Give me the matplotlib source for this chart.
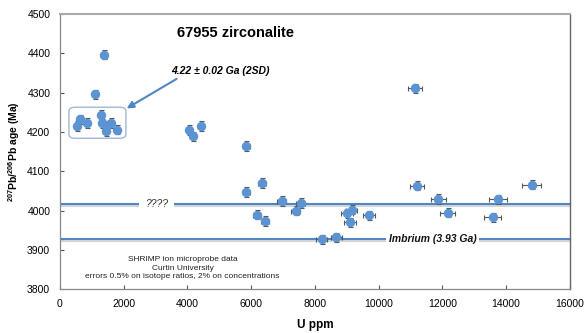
import matplotlib
matplotlib.use("Agg")
import matplotlib.pyplot as plt
import matplotlib.patheffects as pe
from matplotlib.patches import FancyBboxPatch
import numpy as np

plt.rcParams["font.family"] = ["Liberation Sans", "DejaVu Sans"]
plt.rcParams["mathtext.fontset"] = "custom"
plt.rcParams["mathtext.rm"] = "Liberation Sans"
plt.rcParams["mathtext.bf"] = "Liberation Sans:bold"

# U concentration (ppm) and 207Pb/206Pb age (Ma)
u_ppm = [523, 638, 837, 1098, 1380, 1297, 1328, 1433, 1475, 1590, 1778,
         4057, 4162, 4413, 5846, 5846, 6347, 6170, 6441, 6960, 7394, 7550,
         8209, 8668, 9004, 9151, 9100, 9700, 11137, 11213, 11870, 12163,
         13574, 13752, 14808]
age_ma = [4215, 4232, 4223, 4296, 4397, 4244, 4222, 4203, 4217, 4223, 4206,
          4205, 4189, 4215, 4165, 4048, 4070, 3990, 3974, 4025, 4000, 4020,
          3927, 3932, 3993, 4003, 3970, 3988, 4311, 4064, 4030, 3995,
          3983, 4029, 4066]
age_err = 12          # Ma, plotted error
u_err_frac = 0.02     # 2% on concentrations

ref_ages = [4016, 3928]
ref_labels = ["????", "Imbrium (3.93 Ga)"]
ref_label_x = [3030, 11700]

box_x = [282, 2070]
box_y = [4184, 4263]

blue = "#5b93d3"
line_blue = "#4f86c6"

fig = plt.figure(figsize=(5.84, 3.33), dpi=100)
ax = fig.add_axes([0.1027, 0.131, 0.873, 0.827])

u = np.array(u_ppm)
ax.errorbar(u, age_ma, yerr=age_err, xerr=u * u_err_frac, fmt="o",
            color=blue, markersize=5.8, ecolor="#555555", elinewidth=0.8,
            capsize=1.8, capthick=0.8, zorder=4)

for val in ref_ages:
    ax.axhline(val, color=line_blue, lw=1.5, zorder=2,
               path_effects=[pe.SimpleLineShadow(offset=(0, -1.2), shadow_color="#bbbbbb", alpha=0.6),
                             pe.Normal()])

ax.text(ref_label_x[0], ref_ages[0], ref_labels[0], ha="center", va="center",
        fontsize=7.5, style="italic", color="#333333", zorder=3,
        bbox=dict(boxstyle="square,pad=0.6", fc="white", ec="none"))
ax.text(ref_label_x[1], ref_ages[1], ref_labels[1], ha="center", va="center",
        fontsize=7.5, style="italic", weight="bold", color="#111111", zorder=3,
        bbox=dict(boxstyle="square,pad=0.25", fc="white", ec="none"))

box = FancyBboxPatch((box_x[0], box_y[0]), box_x[1] - box_x[0], box_y[1] - box_y[0],
                     boxstyle="round,pad=0,rounding_size=200", mutation_aspect=0.05,
                     fc="none", ec="#9fb9d9", lw=1.0, zorder=3)
ax.add_patch(box)

ax.annotate("", xy=(2092, 4260), xytext=(3660, 4335),
            arrowprops=dict(arrowstyle="-|>", color=line_blue, lw=1.5,
                            mutation_scale=10, shrinkA=0, shrinkB=0))
ax.text(3480, 4355, "4.22 ± 0.02 Ga (2SD)", fontsize=7.5, style="italic",
        weight="bold", va="center", ha="left")

ax.text(5500, 4470, "67955 zirconalite", fontsize=10.5, weight="bold",
        va="top", ha="center")

ax.text(3850, 3885, "SHRIMP ion microprobe data\nCurtin University\n"
        "errors 0.5% on isotope ratios, 2% on concentrations",
        fontsize=6, ha="center", va="top", linespacing=1.35, color="#222222")

ax.set_xlim(0, 16000)
ax.set_ylim(3800, 4500)
ax.set_xticks(np.arange(0, 16001, 2000))
ax.set_yticks(np.arange(3800, 4501, 100))
ax.tick_params(direction="in", length=3, width=0.8, labelsize=7.5, colors="#555555",
               labelcolor="black", pad=7)
for side in ["left", "bottom"]:
    ax.spines[side].set_color("#888888")
    ax.spines[side].set_linewidth(0.9)
ax.spines["top"].set_color("#aaaaaa")
ax.spines["top"].set_linewidth(1.5)
ax.spines["right"].set_color("#666666")
ax.spines["right"].set_linewidth(1.0)

ax.set_xlabel("U ppm", fontsize=8.5, weight="bold", labelpad=7)
ax.set_ylabel(r"$^{\mathbf{207}}$Pb/$^{\mathbf{206}}$Pb age (Ma)", fontsize=7.5,
              weight="bold", labelpad=4)

fig.savefig("out.png", dpi=100)
